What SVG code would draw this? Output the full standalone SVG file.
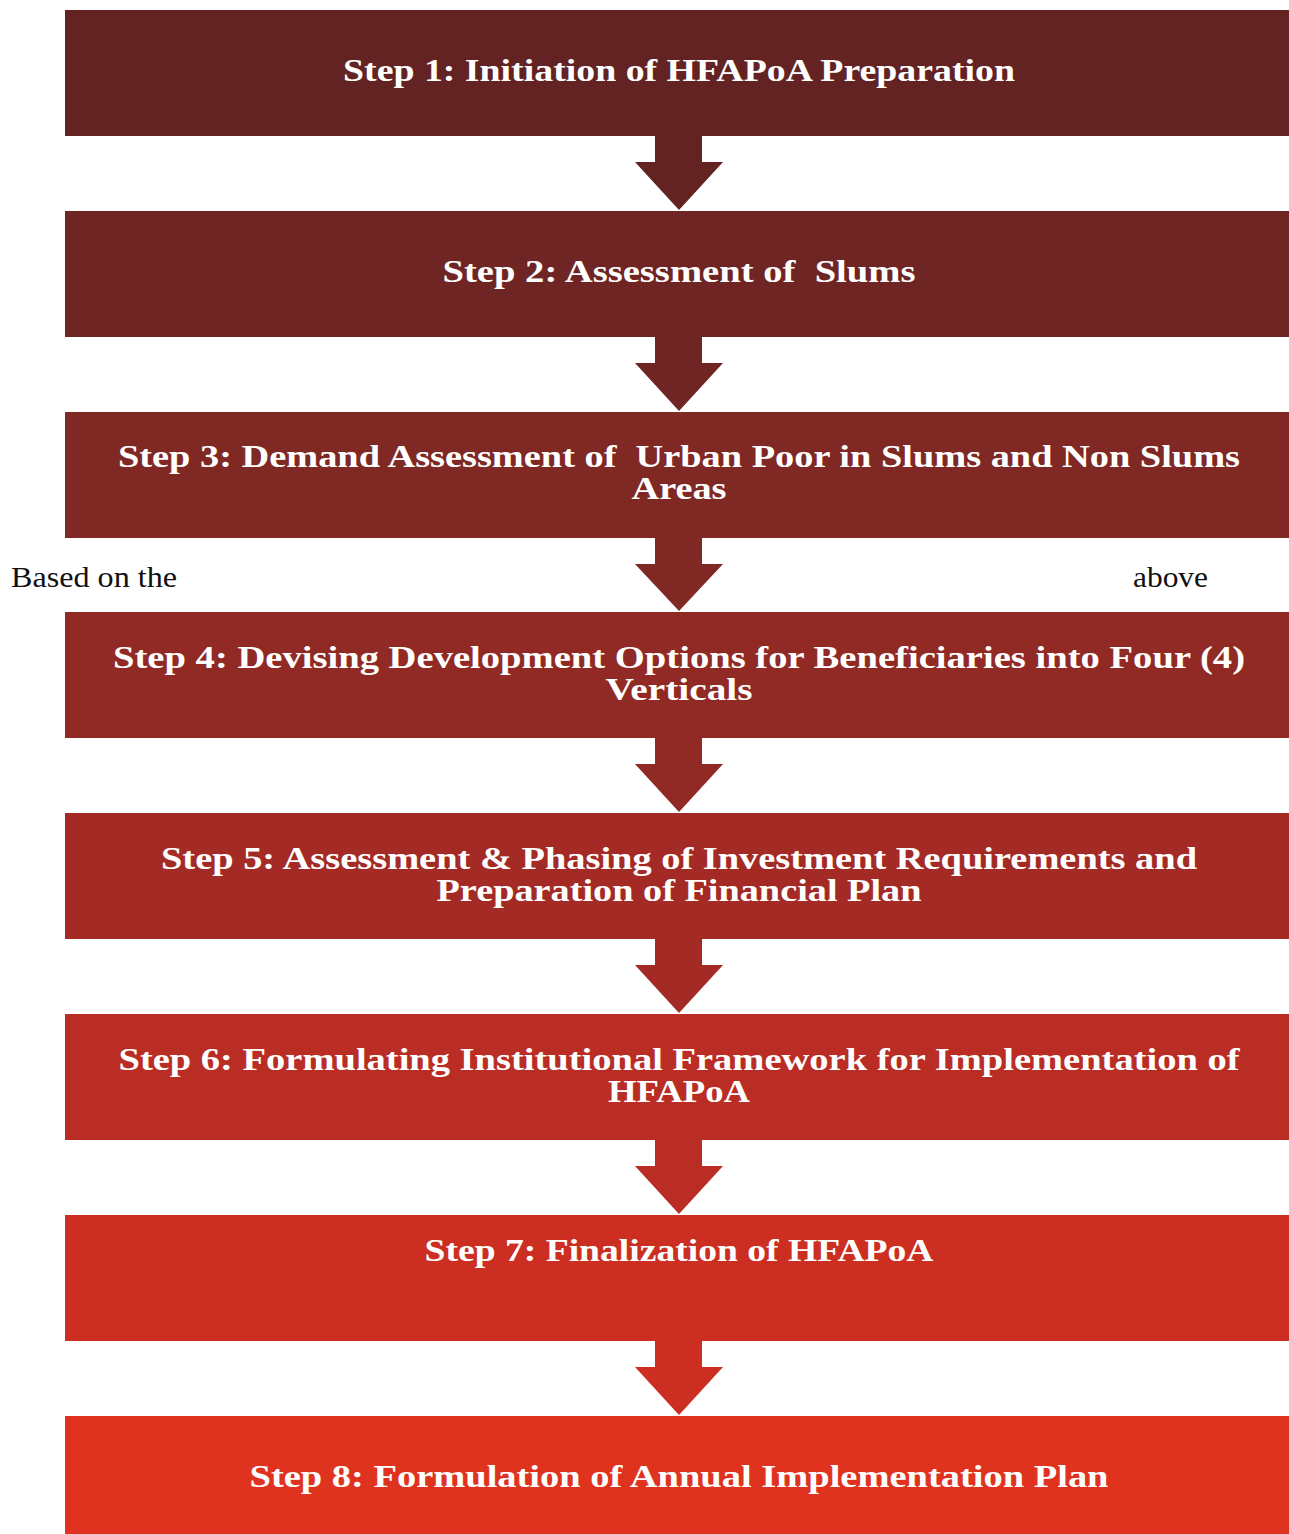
<svg xmlns="http://www.w3.org/2000/svg" width="1289" height="1534" viewBox="0 0 1289 1534">
<style>
.box{stroke:none}
.t{font-family:"Liberation Serif","Times New Roman",serif;font-weight:bold;font-size:32px;fill:#ffffff;text-anchor:middle;white-space:pre}
.p{font-family:"Liberation Serif","Times New Roman",serif;font-size:29px;fill:#111111}
</style>
<rect width="1289" height="1534" fill="#ffffff"/>
<g id="connectors">
<path d="M655 134 H702 V162 H723 L679 210 L635 162 H655 Z" fill="#622322"/>
<path d="M655 335 H702 V363 H723 L679 411 L635 363 H655 Z" fill="#6E2524"/>
<path d="M655 536 H702 V564 H723 L679 611 L635 564 H655 Z" fill="#7F2824"/>
<path d="M655 736 H702 V764 H723 L679 812 L635 764 H655 Z" fill="#912A24"/>
<path d="M655 937 H702 V965 H723 L679 1013 L635 965 H655 Z" fill="#A42B25"/>
<path d="M655 1138 H702 V1166 H723 L679 1214 L635 1166 H655 Z" fill="#B92D25"/>
<path d="M655 1339 H702 V1367 H723 L679 1415 L635 1367 H655 Z" fill="#CC2F21"/>
</g>
<g id="step1"><rect class="box" x="65" y="10" width="1224" height="126" fill="#622322"/>
<text class="t" x="679" y="81" textLength="672" lengthAdjust="spacingAndGlyphs">Step 1: Initiation of HFAPoA Preparation</text></g>
<g id="step2"><rect class="box" x="65" y="211" width="1224" height="126" fill="#6E2524"/>
<text class="t" x="679" y="282" textLength="473" lengthAdjust="spacingAndGlyphs">Step 2: Assessment of  Slums</text></g>
<g id="step3"><rect class="box" x="65" y="412" width="1224" height="126" fill="#7F2824"/>
<text class="t" x="679" y="467" textLength="1122" lengthAdjust="spacingAndGlyphs">Step 3: Demand Assessment of  Urban Poor in Slums and Non Slums</text>
<text class="t" x="679" y="499" textLength="95" lengthAdjust="spacingAndGlyphs">Areas</text></g>
<g id="step4"><rect class="box" x="65" y="612" width="1224" height="126" fill="#912A24"/>
<text class="t" x="679" y="668" textLength="1132" lengthAdjust="spacingAndGlyphs">Step 4: Devising Development Options for Beneficiaries into Four (4)</text>
<text class="t" x="679" y="700" textLength="147" lengthAdjust="spacingAndGlyphs">Verticals</text></g>
<g id="step5"><rect class="box" x="65" y="813" width="1224" height="126" fill="#A42B25"/>
<text class="t" x="679" y="869" textLength="1036" lengthAdjust="spacingAndGlyphs">Step 5: Assessment &amp; Phasing of Investment Requirements and</text>
<text class="t" x="679" y="901" textLength="485" lengthAdjust="spacingAndGlyphs">Preparation of Financial Plan</text></g>
<g id="step6"><rect class="box" x="65" y="1014" width="1224" height="126" fill="#B92D25"/>
<text class="t" x="679" y="1070" textLength="1121" lengthAdjust="spacingAndGlyphs">Step 6: Formulating Institutional Framework for Implementation of</text>
<text class="t" x="679" y="1102" textLength="142" lengthAdjust="spacingAndGlyphs">HFAPoA</text></g>
<g id="step7"><rect class="box" x="65" y="1215" width="1224" height="126" fill="#CC2F21"/>
<text class="t" x="679" y="1261" textLength="509" lengthAdjust="spacingAndGlyphs">Step 7: Finalization of HFAPoA</text></g>
<g id="step8"><rect class="box" x="65" y="1416" width="1224" height="118" fill="#DF3320"/>
<text class="t" x="679" y="1487" textLength="859" lengthAdjust="spacingAndGlyphs">Step 8: Formulation of Annual Implementation Plan</text></g>
<text class="p" x="11" y="587" textLength="166" lengthAdjust="spacingAndGlyphs">Based on the</text>
<text class="p" x="1133" y="587" textLength="75" lengthAdjust="spacingAndGlyphs">above</text>
</svg>
